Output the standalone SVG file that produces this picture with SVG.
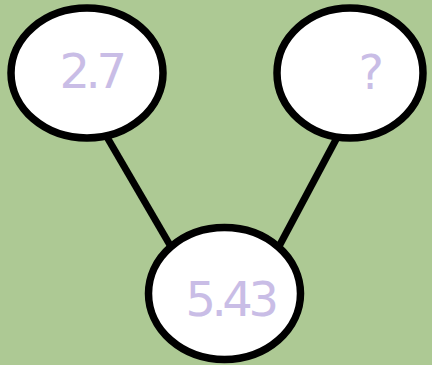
<svg xmlns="http://www.w3.org/2000/svg" width="432" height="365" viewBox="0 0 432 365">
<style>
.node{fill:#ffffff;stroke:#000000;stroke-width:7.5}
.edge{stroke:#000000;stroke-width:7;fill:none}
.lbl{font-family:"DejaVu Sans",Verdana,sans-serif;font-size:48px;fill:#c9bde6;letter-spacing:-4.5px}
</style>
<rect width="432" height="365" fill="#adc994"/>
<g id="connectors">
<line class="edge" x1="104" y1="132" x2="174" y2="252"/>
<line class="edge" x1="340" y1="132" x2="276" y2="252"/>
</g>
<g id="node-left">
<ellipse class="node" cx="87" cy="73" rx="76" ry="65"/>
<text class="lbl" x="91" y="88" text-anchor="middle">2.7</text>
</g>
<g id="node-right">
<ellipse class="node" cx="350" cy="73" rx="73" ry="65"/>
<text class="lbl" x="369" y="89" text-anchor="middle">?</text>
</g>
<g id="node-bottom">
<ellipse class="node" cx="224.5" cy="293.5" rx="76" ry="66"/>
<text class="lbl" x="230" y="316" text-anchor="middle">5.43</text>
</g>
</svg>
